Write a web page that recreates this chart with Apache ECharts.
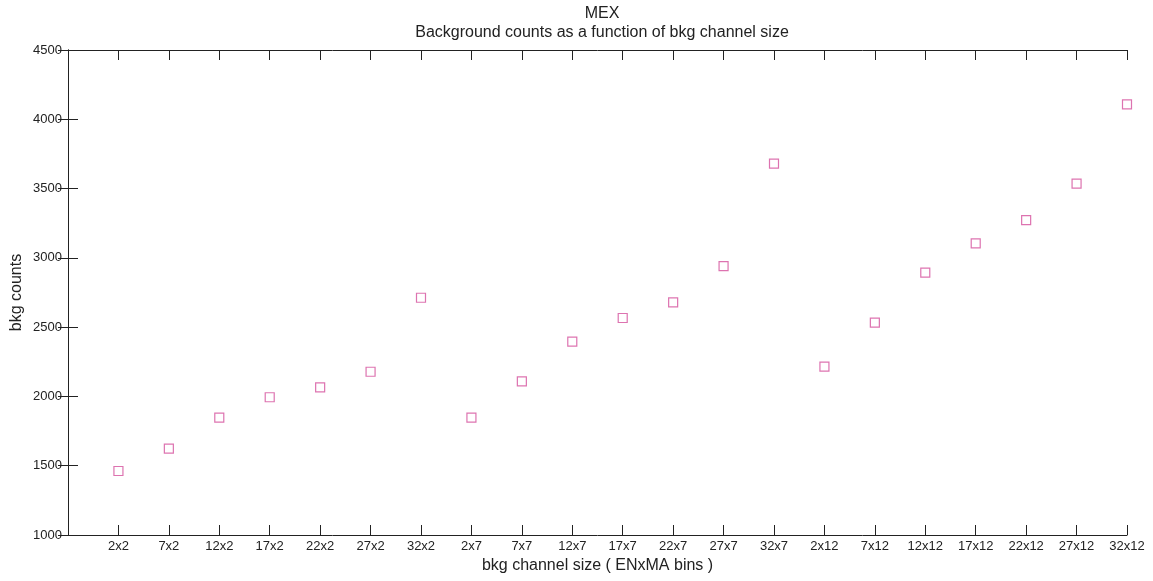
<!DOCTYPE html>
<html>
<head>
<meta charset="utf-8">
<script src="https://cdn.jsdelivr.net/npm/echarts@6/dist/echarts.min.js"></script>
<style>html,body{margin:0;padding:0;background:#fff}#c{width:1153px;height:581px}</style>
</head>
<body>
<div id="c"></div>
<script>
var categories = ['2x2','7x2','12x2','17x2','22x2','27x2','32x2','2x7','7x7','12x7','17x7','22x7','27x7','32x7','2x12','7x12','12x12','17x12','22x12','27x12','32x12'];
var counts = [1462,1623,1847,1994,2066,2178,2712,1847,2109,2395,2566,2679,2941,3680,2215,2532,2893,3105,3273,3535,4108];
var yTicks = [1000,1500,2000,2500,3000,3500,4000,4500];

var font = 'Liberation Sans, Arial, sans-serif';
var axisCol = '#222';
var chart = echarts.init(document.getElementById('c'), null, {renderer:'canvas'});
var data = counts.map(function(v,i){ return [i+1, v]; });
var tickStyle = {show:true, inside:true, length:10, lineStyle:{color:axisCol, width:1}};
chart.setOption({
  backgroundColor:'#fff',
  animation:false,
  title:[
    {text:'MEX', left:597, top:1, textAlign:'center', textStyle:{fontFamily:font, fontSize:16, fontWeight:'normal', color:'#222'}},
    {text:'Background counts as a function of bkg channel size', left:597, top:20, textAlign:'center', textStyle:{fontFamily:font, fontSize:16, fontWeight:'normal', color:'#222'}}
  ],
  grid:{left:68, right:26, top:50, bottom:46, containLabel:false, outerBoundsMode:'none'},
  xAxis:[{
    type:'value', min:0, max:21, interval:1, position:'bottom',
    name:'bkg channel size ( ENxMA bins )', nameLocation:'middle', nameGap:23, nameMoveOverlap:false,
    nameTextStyle:{fontFamily:font, fontSize:16, color:'#222'},
    axisLine:{show:true, lineStyle:{color:axisCol, width:1}},
    axisTick:tickStyle,
    splitLine:{show:false},
    axisLabel:{fontFamily:font, fontSize:13, color:'#222', margin:5,
      formatter:function(v){ return (v>=1 && v<=categories.length) ? categories[v-1] : ''; }}
  },{
    type:'value', min:0, max:21, interval:1, position:'top',
    axisLine:{show:true, lineStyle:{color:axisCol, width:1}},
    axisTick:tickStyle, axisLabel:{show:false}, splitLine:{show:false}
  }],
  yAxis:[{
    type:'value', min:1000, max:4500, interval:500, position:'left',
    name:'bkg counts', nameLocation:'middle', nameGap:43, nameRotate:90, nameMoveOverlap:false,
    nameTextStyle:{fontFamily:font, fontSize:16, color:'#222'},
    axisLine:{show:true, lineStyle:{color:axisCol, width:1}},
    axisTick:tickStyle, splitLine:{show:false},
    axisLabel:{fontFamily:font, fontSize:13, color:'#222', margin:6,
      formatter:function(v){ return yTicks.indexOf(v)>=0 ? String(v) : ''; }}
  },{
    type:'value', min:1000, max:4500, interval:500, position:'right',
    axisLine:{show:true, lineStyle:{color:axisCol, width:1}},
    axisTick:tickStyle, axisLabel:{show:false}, splitLine:{show:false}
  }],
  series:[{
    type:'scatter', xAxisIndex:0, yAxisIndex:0,
    symbol:'rect', symbolSize:9,
    itemStyle:{color:'rgba(255,255,255,0)', borderColor:'#d4509c', borderWidth:1.2},
    data:data, clip:false
  }]
});
</script>
</body>
</html>
